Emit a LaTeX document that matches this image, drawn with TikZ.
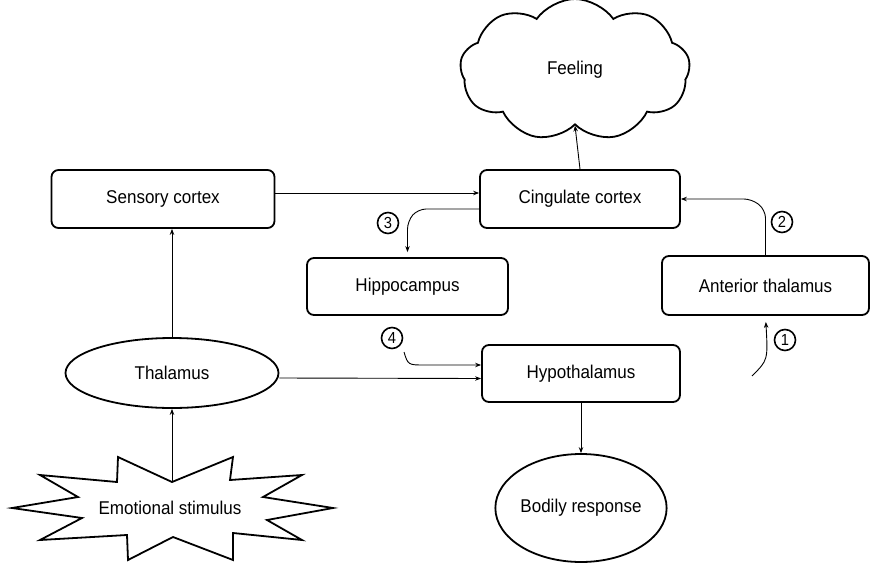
\documentclass[tikz,border=0pt]{standalone}
\usepackage{fontspec}
\setmainfont{Liberation Sans}[FakeStretch=0.92]
\usetikzlibrary{shapes.geometric,shapes.symbols,arrows.meta}
\tikzset{
  lbl/.style={font=\fontsize{18.5}{20}\selectfont},
  box/.style={lbl, draw, line width=1.8pt, rounded corners=7pt, inner sep=0pt},
  oval/.style={lbl, draw, ellipse, line width=1.8pt, inner sep=0pt},
  arr/.style={line width=0.9pt, -{Stealth[length=6pt,width=4.5pt]}},
  num/.style={circle, draw, line width=1.6pt, inner sep=0pt, minimum size=21pt, font=\fontsize{16}{16}\selectfont},
}
\begin{document}
\begin{tikzpicture}[x=1pt,y=-1pt]
\useasboundingbox (0,0) rectangle (879,563);
% nodes
\node[lbl, draw, cloud, cloud puffs=9, cloud puff arc=110, aspect=1.7, line width=1.8pt,
      minimum width=230pt, minimum height=142pt] (feel) at (575,70) {Feeling};
\node[box, minimum width=200pt, minimum height=58pt] (cing) at (580,199) {Cingulate cortex};
\node[box, minimum width=223pt, minimum height=58pt] (sens) at (163,199) {Sensory cortex};
\node[box, minimum width=201pt, minimum height=57pt] (hippo) at (407.5,286.5) {Hippocampus};
\node[box, minimum width=207pt, minimum height=59pt] (ant) at (765.5,285.5) {Anterior thalamus};
\node[box, minimum width=198pt, minimum height=57pt] (hypo) at (581,373.5) {Hypothalamus};
\node[oval, minimum width=213pt, minimum height=70pt] (thal) at (172,373) {Thalamus};
\node[oval, minimum width=163pt, minimum height=108pt] (bod) at (581,508) {Bodily response};
% star
\draw[line width=1.8pt, line join=miter]
  (12,508) -- (78,497) -- (40,475) -- (117,482) -- (118,457) -- (172,482) -- (233,457)
  -- (230,480) -- (302,475) -- (263,497) -- (333,508) -- (267,520) -- (302,540)
  -- (233,533) -- (233,560) -- (173,537) -- (128,560) -- (127,535) -- (40,540)
  -- (82,518) -- cycle;
\node[lbl] (emo) at (170,508) {Emotional stimulus};
\coordinate (emotop) at (172,482);
% numbers
\node[num] (n1) at (785,340) {1};
\node[num] (n2) at (782,222) {2};
\node[num] (n3) at (388,223) {3};
\node[num] (n4) at (392,338) {4};
% connectors
\draw[arr] (cing.north) -- (feel.south);
\draw[arr] ([yshift=6pt]sens.east) -- ([yshift=6pt]cing.west);
\draw[arr] (thal.north) -- (thal.north |- sens.south);
\draw[arr] (emotop) -- (thal.south);
\draw[arr] ([yshift=-5pt]thal.east) -- ([yshift=-5pt]hypo.west);
\draw[arr] (hypo.south) -- (bod.north);
\draw[arr, rounded corners=8pt, shorten >=5pt] ([yshift=-10pt]cing.west) -- (418,209) -- (407.5,221) -- (hippo.north);
\draw[arr, rounded corners=8pt] (ant.north) -- (765.5,210) -- (752,199) -- (cing.east);
\coordinate (p1) at (752,376);
\draw[arr, shorten >=6pt] (p1) .. controls (768,360) .. (ant.south);
\coordinate (p4) at (404,352);
\draw[arr] (p4) .. controls (408,365) .. (425,365) -- ([yshift=8.5pt]hypo.west);
\end{tikzpicture}
\end{document}
